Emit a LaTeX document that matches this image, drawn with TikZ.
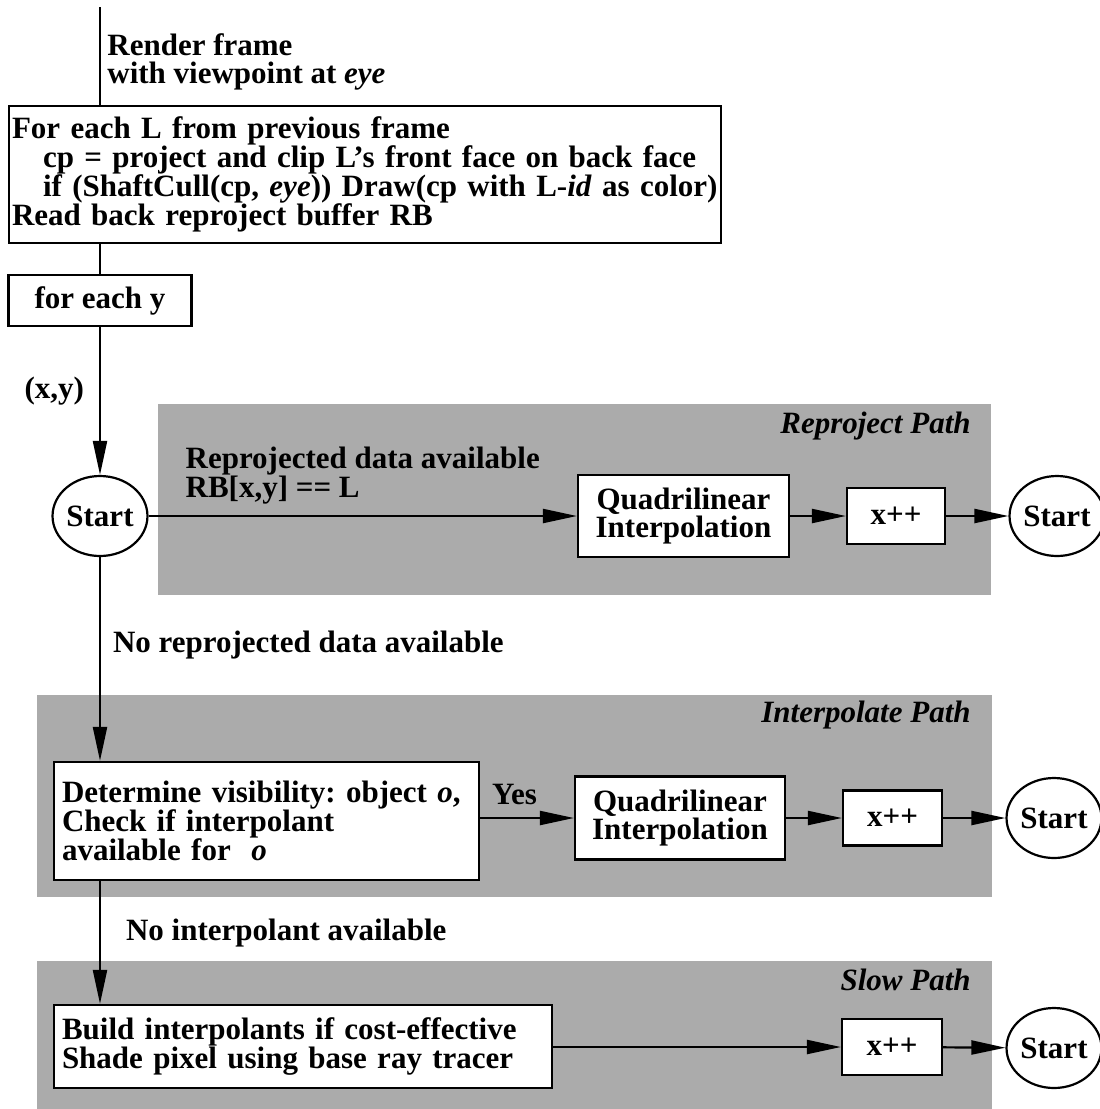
\documentclass[tikz,border=0pt]{standalone}
\usepackage{fontspec}
\setmainfont{Liberation Serif}
\usetikzlibrary{arrows.meta,shapes.geometric}
\definecolor{PathGray}{HTML}{ABABAB}
\newcommand{\mainfnt}{\fontsize{15.5}{14.4}\selectfont\frenchspacing\bfseries}
\tikzset{
  blk/.style    = {draw, line width=1.1pt, fill=white, align=center, inner sep=0pt},
  blkl/.style   = {blk, align=left, inner ysep=0pt},
  inicio/.style = {draw, ellipse, line width=1.1pt, fill=white, inner sep=0pt,
                   minimum width=46.5pt, minimum height=40pt},
  zona/.style   = {fill=PathGray},
  ruta/.style   = {font=\mainfnt\itshape, anchor=base east, inner sep=0pt},
  flecha/.style = {-{Triangle[length=17pt,width=7pt]}, line width=1.1pt},
  linea/.style  = {line width=1.1pt},
  lbl/.style    = {align=left, inner sep=0pt},
}

\begin{document}
\begin{tikzpicture}[x=0.5pt, y=-0.5pt, font=\mainfnt]
  \useasboundingbox (0,0) rectangle (1099,1109);
  % shaded paths
  \fill[zona] (158,404) rectangle (991,595);
  \fill[zona] (37,695) rectangle (992,897);
  \fill[zona] (37,961) rectangle (992,1109);
  \node[ruta] (rpA) at (971,433) {Reproject Path};
  \node[ruta] (rpB) at (971,722) {Interpolate Path};
  \node[ruta] (rpC) at (971,990) {Slow Path};

  % frame setup
  \coordinate (top) at (100,7);
  \node[lbl, anchor=west] (rend) at (107,62) {Render frame\\with viewpoint at \textit{eye}};
  \node[blkl, inner xsep=1.5pt, text width=353pt, minimum height=68.5pt] (fetch) at (365,174.5)
    {For each L from previous frame\\
     \hspace*{1em}cp = project and clip L's front face on back face\\
     \hspace*{1em}if (ShaftCull(cp, \textit{eye})) Draw(cp with L-\textit{id} as color)\\
     Read back reproject buffer RB};
  \node[blk, minimum width=91.5pt, minimum height=25.5pt] (fory) at (100,300.5) {for each y};
  \node[inicio] (st1) at (100,516) {Start};
  \draw[linea] (top) -- (top |- fetch.north);
  \draw[linea] (fetch.south -| fory.north) -- (fory.north);
  \draw[flecha] (fory) -- node[lbl, left=7.5pt, pos=0.43]{(x,y)} (st1);

  % reproject path
  \node[blk, minimum width=105.5pt, minimum height=41pt] (quadA) at (683.5,516) {Quadrilinear\\Interpolation};
  \node[blk, minimum width=49pt, minimum height=28pt] (incA) at (896,516) {x++};
  \node[inicio] (stA) at (1057,516) {Start};
  \draw[flecha] (st1) -- node[lbl, anchor=south west, pos=0.084, yshift=5.5pt]
    {Reprojected data available\\RB[x,y] == L} (quadA);
  \draw[flecha] (quadA) -- (incA);
  \draw[flecha] (incA) -- (stA);

  % interpolate path
  \node[blkl, inner xsep=4pt, text width=204.5pt, minimum height=59pt] (detB) at (266.5,821)
    {Determine visibility: object \textit{o},\\Check if interpolant\\available for\ \ \textit{o}};
  \node[blk, minimum width=105pt, minimum height=41.5pt] (quadB) at (680,818) {Quadrilinear\\Interpolation};
  \node[blk, minimum width=49.5pt, minimum height=27.5pt] (incB) at (892.5,818) {x++};
  \node[inicio] (stB) at (1054,818) {Start};
  \draw[flecha] (st1.south) -- node[lbl, right=6pt, pos=0.43]{No reprojected data available} (st1.south |- detB.north);
  \draw[flecha] (detB.east |- quadB.west) -- node[lbl, anchor=south west, pos=0, xshift=5.5pt, yshift=6pt]{Yes} (quadB.west);
  \draw[flecha] (quadB) -- (incB);
  \draw[flecha] (incB) -- (stB);

  % slow path
  \node[blkl, inner xsep=4pt, text width=241pt, minimum height=41.5pt] (bldC) at (303,1046.5)
    {Build interpolants if cost-effective\\Shade pixel using base ray tracer};
  \node[blk, minimum width=50pt, minimum height=28pt] (incC) at (892,1047) {x++};
  \node[inicio] (stC) at (1054,1048) {Start};
  \draw[flecha] (detB.south -| st1) -- node[lbl, right=12.5pt, pos=0.42]{No interpolant available} (bldC.north -| st1);
  \draw[flecha] (bldC.east |- incC.west) -- (incC.west);
  \draw[flecha] (incC) -- (stC);
\end{tikzpicture}
\end{document}
